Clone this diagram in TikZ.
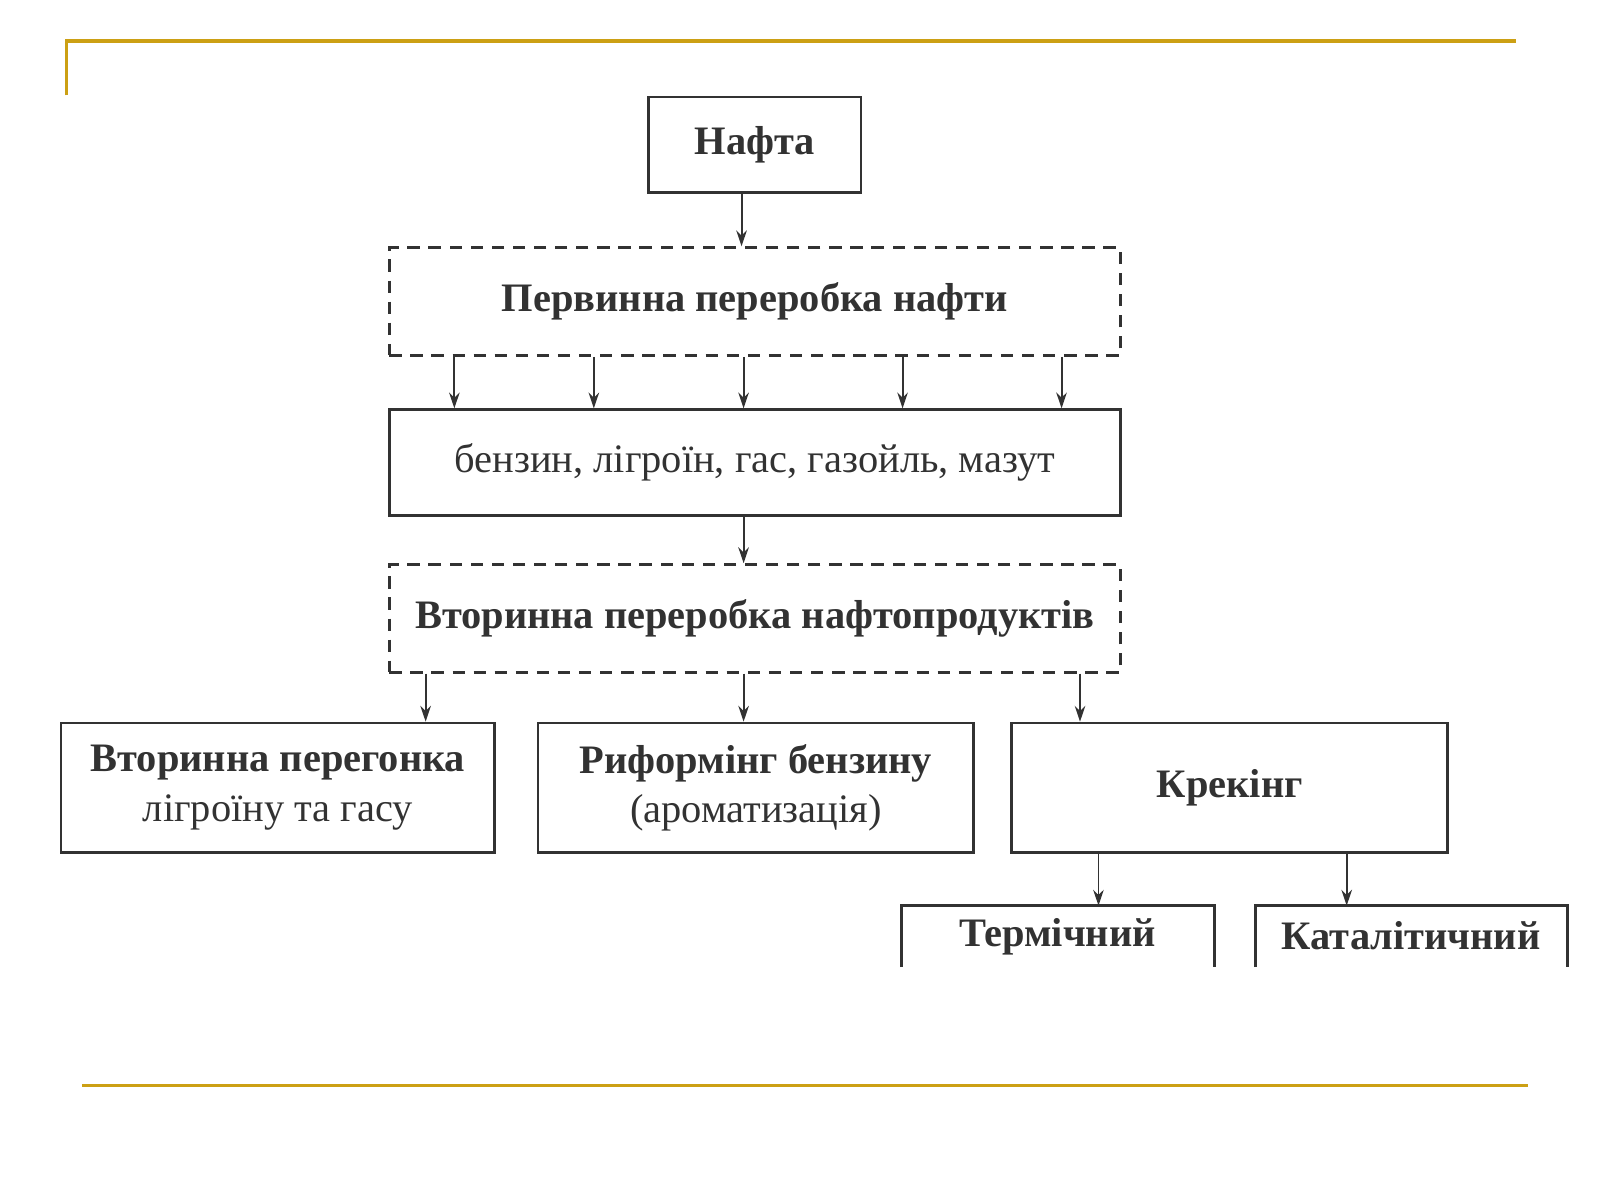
\documentclass[tikz,border=0pt]{standalone}
\usepackage{fontspec}
\setmainfont{Liberation Serif}
\usetikzlibrary{arrows.meta}
\definecolor{goldline}{RGB}{204,160,20}
\definecolor{ink}{RGB}{50,50,50}
\newcommand{\px}{0.02051cm}
\tikzset{
  box/.style={draw=ink, line width=1.6pt, text=ink, align=center, inner sep=0pt},
  dbox/.style={box, dashed, dash pattern=on 7pt off 5pt},
  arr/.style={draw=ink, line width=1.1pt, -{Stealth[length=9pt,width=6pt]}},
  bigf/.style={font=\fontsize{23}{28}\selectfont\bfseries},
  regf/.style={font=\fontsize{23}{28}\selectfont}
}
\begin{document}
\begin{tikzpicture}[x=\px, y=-\px]
  \useasboundingbox (0,0) rectangle (1560,1170);

  % decorative lines
  \draw[goldline, line width=1.8pt] (65,93) -- (65,40) -- (1478,40);
  \draw[goldline, line width=1.8pt] (80,1058) -- (1490,1058);

  % main boxes
  \node[box, bigf, minimum width=207*\px, minimum height=93*\px] (nafta) at (736,141) {Нафта};
  \node[dbox, bigf, minimum width=713*\px, minimum height=105*\px] (perv) at (736,294) {Первинна переробка нафти};
  \node[box, regf, minimum width=713*\px, minimum height=103*\px] (prod) at (736,451) {бензин, лігроїн, гас, газойль, мазут};
  \node[dbox, bigf, minimum width=713*\px, minimum height=105*\px] (vtor) at (736,603) {Вторинна переробка нафтопродуктів};

  % secondary processes
  \node[box, regf, minimum width=423*\px, minimum height=126*\px] (pereg) at (271,768) {\textbf{Вторинна перегонка}\\лігроїну та гасу};
  \node[box, regf, minimum width=425*\px, minimum height=126*\px] (reform) at (737,768) {\textbf{Риформінг бензину}\\(ароматизація)};
  \node[box, bigf, minimum width=425*\px, minimum height=126*\px] (kreking) at (1199,768) {Крекінг};

  % cut-off boxes
  \draw[ink, line width=1.6pt] (879,943) -- (879,883) -- (1184,883) -- (1184,943);
  \draw[ink, line width=1.6pt] (1224,943) -- (1224,883) -- (1528,883) -- (1528,943);
  \node[bigf, text=ink] (term) at (1031,913) {Термічний};
  \node[bigf, text=ink] (katal) at (1376,912) {Каталітичний};

  % arrows
  \draw[arr] ([xshift=-13*\px]nafta.south) -- ([xshift=-13*\px]perv.north);
  \foreach \dx in {-293,-157,-11,144,299}
    \draw[arr] ([xshift=\dx*\px]perv.south) -- ([xshift=\dx*\px]prod.north);
  \draw[arr] ([xshift=-11*\px]prod.south) -- ([xshift=-11*\px]vtor.north);
  \draw[arr] (vtor.south -| 415,0) -- (pereg.north -| 415,0);
  \draw[arr] ([xshift=-11*\px]vtor.south) -- (reform.north -| 725,0);
  \draw[arr] (vtor.south -| 1053,0) -- (kreking.north -| 1053,0);
  \draw[arr] (kreking.south -| 1071,0) -- (1071,883);
  \draw[arr] (kreking.south -| 1313,0) -- (1313,883);
\end{tikzpicture}
\end{document}
